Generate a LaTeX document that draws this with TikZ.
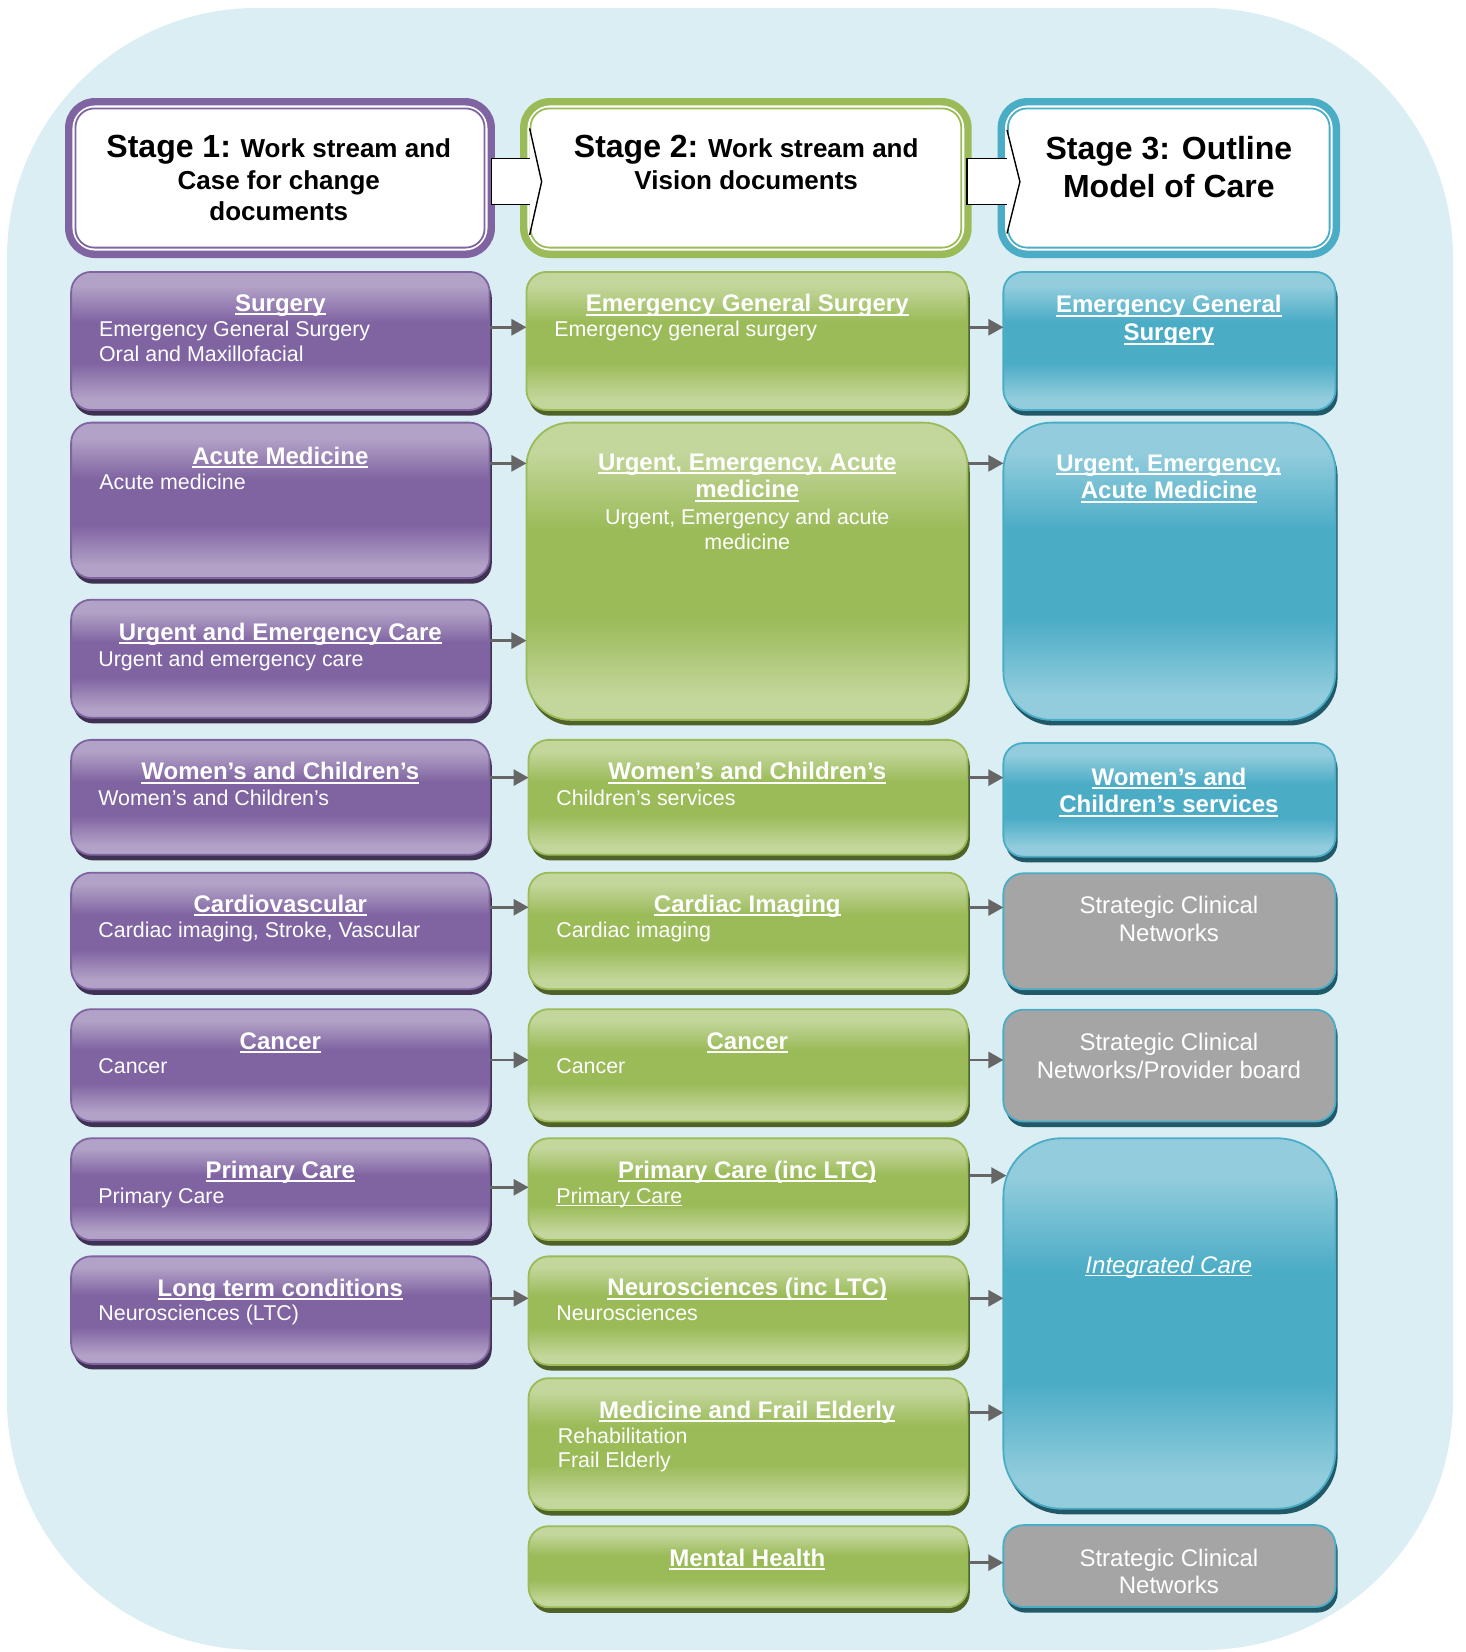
\documentclass[tikz,border=0pt]{standalone}
\usepackage{fontspec}
\setmainfont{Liberation Sans}
\usetikzlibrary{fit,shadows,arrows.meta}

\definecolor{bgc}{HTML}{DAEEF3}
\definecolor{pB}{HTML}{8064A2}
\definecolor{pL}{HTML}{B3A2C7}
\definecolor{pS}{HTML}{3F3151}
\definecolor{gB}{HTML}{9BBB59}
\definecolor{gL}{HTML}{C3D69B}
\definecolor{gS}{HTML}{4F6228}
\definecolor{bB}{HTML}{4BACC6}
\definecolor{bL}{HTML}{93CDDD}
\definecolor{bS}{HTML}{215968}
\definecolor{grF}{HTML}{A5A5A5}
\definecolor{arr}{HTML}{666666}

\pgfdeclareverticalshading{pglo}{100bp}{color(0bp)=(pL); color(25bp)=(pL); color(29bp)=(pL); color(42bp)=(pB); color(57bp)=(pB); color(70bp)=(pL); color(75bp)=(pL); color(100bp)=(pL)}
\pgfdeclareverticalshading{gglo}{100bp}{color(0bp)=(gL); color(25bp)=(gL); color(29bp)=(gL); color(42bp)=(gB); color(57bp)=(gB); color(70bp)=(gL); color(75bp)=(gL); color(100bp)=(gL)}
\pgfdeclareverticalshading{bglo}{100bp}{color(0bp)=(bL); color(25bp)=(bL); color(29bp)=(bL); color(42bp)=(bB); color(57bp)=(bB); color(70bp)=(bL); color(75bp)=(bL); color(100bp)=(bL)}

\newcommand{\ulx}[1]{\setbox0=\hbox{#1}\rlap{\rule[-1.9pt]{\wd0}{1pt}}\box0}
\newcommand{\ult}[1]{\setbox0=\hbox{#1}\rlap{\rule[-1.6pt]{\wd0}{0.6pt}}\box0}

\tikzset{
  boxbase/.style={inner sep=0pt, outer sep=0pt, line width=0.9pt},
  pbox/.style={boxbase, draw=pB, shade, shading=pglo, rounded corners=10pt,
    general shadow={fill=pS, shadow xshift=1.1pt, shadow yshift=-2.8pt}},
  gbox/.style={boxbase, draw=gB, shade, shading=gglo, rounded corners=10pt,
    general shadow={fill=gS, shadow xshift=1.1pt, shadow yshift=-2.8pt}},
  bbox/.style={boxbase, draw=bB, shade, shading=bglo, rounded corners=10pt,
    general shadow={fill=bS, shadow xshift=1.1pt, shadow yshift=-2.8pt}},
  sbox/.style={boxbase, draw=bB, fill=grF, rounded corners=10pt,
    general shadow={fill=bS, shadow xshift=1.1pt, shadow yshift=-2.8pt}},
  hdrbox/.style={inner sep=0pt, outer sep=0pt, rounded corners=15pt},
  hd/.style={font=\fontsize{12}{13.9}\selectfont\bfseries, text=white, inner sep=0pt, anchor=north, align=center},
  bd/.style={font=\fontsize{10.7}{12.1}\selectfont, text=white, inner sep=0pt, anchor=north west, align=left},
  bdc/.style={font=\fontsize{10.7}{12.1}\selectfont, text=white, inner sep=0pt, anchor=north, align=center},
  gt/.style={font=\fontsize{12}{13.7}\selectfont, text=white, inner sep=0pt, anchor=north, align=center},
  ttl/.style={font=\fontsize{13}{15.8}\selectfont\bfseries, text=black, inner sep=0pt, anchor=north, align=center},
  ttlb/.style={font=\fontsize{16}{19}\selectfont\bfseries, text=black, inner sep=0pt, anchor=north, align=center},
  conn/.style={draw=arr, line width=1.4pt, -{Triangle[length=7.5pt,width=8pt]}},
  blockarrow/.style={draw=black, line width=0.7pt}
}

\begin{document}
\begin{tikzpicture}[x=0.527pt,y=-0.527pt]
\useasboundingbox (0,0) rectangle (1390,1567.4);
\fill[bgc, rounded corners=125pt] (6.6,7.6) rectangle (1378.6,1565.5);

% ---------- stage headers ----------
\node[hdrbox, fill=pB, fit={(61.7,93)(469.6,244.8)}] (H1) {};
\node[hdrbox, fill=gB, fit={(493.4,93)(921.9,244.8)}] (H2) {};
\node[hdrbox, fill=bB, fit={(946.5,93)(1271.4,244.8)}] (H3) {};
\foreach \h/\c in {H1/pB,H2/gB,H3/bB}{
  \fill[white, rounded corners=11.5pt] ([shift={(3.7pt,-3.7pt)}]\h.north west) rectangle ([shift={(-3.7pt,3.7pt)}]\h.south east);
  \draw[\c, line width=0.9pt, rounded corners=9.5pt] ([shift={(5.2pt,-5.2pt)}]\h.north west) rectangle ([shift={(-5.2pt,5.2pt)}]\h.south east);
}
\node[ttl] (T1) at (264.5,128) {{\fontsize{16}{19}\selectfont Stage 1:} Work stream and\\Case for change\\documents};
\node[ttl] (T2) at (708,128) {{\fontsize{16}{19}\selectfont Stage 2:} Work stream and\\Vision documents};
\node[ttlb] (T3) at (1109,129) {Stage 3: Outline\\Model of Care};

% block arrows between stage headers
\fill[white] (466.5,150.2) -- (502.5,150.2) -- (502.5,121.8) -- (513.9,172.4) -- (502.5,223) -- (502.5,193.9) -- (466.5,193.9) -- cycle;
\draw[blockarrow] (502.5,150.2) -- (466.5,150.2) -- (466.5,193.9) -- (502.5,193.9);
\draw[blockarrow] (502.5,121.8) -- (513.9,172.4) -- (502.5,223);
\fill[white] (917.5,150.2) -- (955.4,150.2) -- (955.4,123.3) -- (967.7,172.4) -- (955.4,221.5) -- (955.4,193.9) -- (917.5,193.9) -- cycle;
\draw[blockarrow] (955.4,150.2) -- (917.5,150.2) -- (917.5,193.9) -- (955.4,193.9);
\draw[blockarrow] (955.4,123.3) -- (967.7,172.4) -- (955.4,221.5);

% ---------- stage 1 boxes ----------
\node[pbox, fit={(67.5,258)(464.5,389)}] (P1) {};
\node[pbox, fit={(67.5,401)(464.5,548.5)}] (P2) {};
\node[pbox, fit={(67.5,569)(464.5,681)}] (P3) {};
\node[pbox, fit={(67.5,702)(464.5,811)}] (P4) {};
\node[pbox, fit={(67.5,828)(464.5,938.5)}] (P5) {};
\node[pbox, fit={(67.5,957.5)(464.5,1064)}] (P6) {};
\node[pbox, fit={(67.5,1080)(464.5,1176.5)}] (P7) {};
\node[pbox, fit={(67.5,1192)(464.5,1294)}] (P8) {};

% ---------- stage 2 boxes ----------
\node[gbox, fit={(499.5,258)(918,389)}] (G1) {};
\node[gbox, rounded corners=22pt, fit={(499.5,401)(918,683)}] (G2) {};
\node[gbox, fit={(501.5,702)(918,811)}] (G3) {};
\node[gbox, fit={(501.5,828)(918,938.5)}] (G4) {};
\node[gbox, fit={(501.5,957.5)(918,1064)}] (G5) {};
\node[gbox, fit={(501.5,1080)(918,1176.5)}] (G6) {};
\node[gbox, fit={(501.5,1192)(918,1295)}] (G7) {};
\node[gbox, fit={(501.5,1307.6)(918,1432.6)}] (G8) {};
\node[gbox, fit={(501.5,1448)(918,1525)}] (G9) {};

% ---------- stage 3 boxes ----------
\node[bbox, fit={(952,258)(1267,389)}] (B1) {};
\node[bbox, rounded corners=24pt, fit={(952,401)(1267,683)}] (B2) {};
\node[bbox, fit={(952,705)(1267,812.8)}] (B3) {};
\node[sbox, fit={(952,828.6)(1267,938.6)}] (S1) {};
\node[sbox, fit={(952,958)(1267,1064)}] (S2) {};
\node[bbox, rounded corners=29pt, fit={(952,1080)(1267,1431.4)}] (B4) {};
\node[sbox, fit={(952,1447)(1267,1524.7)}] (S3) {};

% ---------- texts stage 1 ----------
\node[hd] (P1h) at (266,279) {\ulx{Surgery}};
\node[bd] (P1b) at (93.6,304.5) {Emergency General Surgery\\Oral and Maxillofacial};
\node[hd] (P2h) at (266,424) {\ulx{Acute Medicine}};
\node[bd] (P2b) at (94,449.7) {Acute medicine};
\node[hd] (P3h) at (266,591) {\ulx{Urgent and Emergency Care}};
\node[bd] (P3b) at (93,617.4) {Urgent and emergency care};
\node[hd] (P4h) at (266,723) {\ulx{Women’s and Children’s}};
\node[bd] (P4b) at (93,749) {Women’s and Children’s};
\node[hd] (P5h) at (266,849) {\ulx{Cardiovascular}};
\node[bd] (P5b) at (93,874.5) {Cardiac imaging, Stroke, Vascular};
\node[hd] (P6h) at (266,979) {\ulx{Cancer}};
\node[bd] (P6b) at (93,1004) {Cancer};
\node[hd] (P7h) at (266,1101) {\ulx{Primary Care}};
\node[bd] (P7b) at (93,1126.5) {Primary Care};
\node[hd] (P8h) at (266,1213) {\ulx{Long term conditions}};
\node[bd] (P8b) at (93,1238) {Neurosciences (LTC)};

% ---------- texts stage 2 ----------
\node[hd] (G1h) at (709,279) {\ulx{Emergency General Surgery}};
\node[bd] (G1b) at (525.5,304.5) {Emergency general surgery};
\node[hd] (G2h) at (709,430) {\ulx{Urgent, Emergency, Acute}\\\ulx{medicine}};
\node[bdc] (G2b) at (709,483) {Urgent, Emergency and acute\\medicine};
\node[hd] (G3h) at (709,723) {\ulx{Women’s and Children’s}};
\node[bd] (G3b) at (527.5,749) {Children’s services};
\node[hd] (G4h) at (709,849) {\ulx{Cardiac Imaging}};
\node[bd] (G4b) at (527.5,874.5) {Cardiac imaging};
\node[hd] (G5h) at (709,979) {\ulx{Cancer}};
\node[bd] (G5b) at (527.5,1004) {Cancer};
\node[hd] (G6h) at (709,1101) {\ulx{Primary Care (inc LTC)}};
\node[bd] (G6b) at (527.5,1126.5) {\ult{Primary Care}};
\node[hd] (G7h) at (709,1212.6) {\ulx{Neurosciences (inc LTC)}};
\node[bd] (G7b) at (527.5,1238) {Neurosciences};
\node[hd] (G8h) at (709,1329) {\ulx{Medicine and Frail Elderly}};
\node[bd] (G8b) at (529,1354.5) {Rehabilitation\\Frail Elderly};
\node[hd] (G9h) at (709,1469) {\ulx{Mental Health}};

% ---------- texts stage 3 ----------
\node[hd] (B1h) at (1109,280) {\ulx{Emergency General}\\\ulx{Surgery}};
\node[hd] (B2h) at (1109,431) {\ulx{Urgent, Emergency,}\\\ulx{Acute Medicine}};
\node[hd] (B3h) at (1109,728) {\ulx{Women’s and}\\\ulx{Children’s services}};
\node[gt] (S1t) at (1109,850) {Strategic Clinical\\Networks};
\node[gt] (S2t) at (1109,980) {Strategic Clinical\\Networks/Provider board};
\node[gt] (B4t) at (1109,1191) {\ult{\itshape Integrated Care}};
\node[gt] (S3t) at (1109,1469) {Strategic Clinical\\Networks};

% ---------- connectors ----------
\draw[conn] (P1.east |- 0,310.5) -- (G1.west |- 0,310.5);
\draw[conn] (P2.east |- 0,439.6) -- (G2.west |- 0,439.6);
\draw[conn] (P3.east |- 0,607.8) -- (G2.west |- 0,607.8);
\draw[conn] (P4.east |- 0,737.8) -- (G3.west |- 0,737.8);
\draw[conn] (P5.east |- 0,860.8) -- (G4.west |- 0,860.8);
\draw[conn] (P6.east |- 0,1005.7) -- (G5.west |- 0,1005.7);
\draw[conn] (P7.east |- 0,1126.5) -- (G6.west |- 0,1126.5);
\draw[conn] (P8.east |- 0,1231.8) -- (G7.west |- 0,1231.8);

\draw[conn] (G1.east |- 0,310.5) -- (B1.west |- 0,310.5);
\draw[conn] (G2.east |- 0,439.6) -- (B2.west |- 0,439.6);
\draw[conn] (G3.east |- 0,737.8) -- (B3.west |- 0,737.8);
\draw[conn] (G4.east |- 0,861) -- (S1.west |- 0,861);
\draw[conn] (G5.east |- 0,1005.7) -- (S2.west |- 0,1005.7);
\draw[conn] (G6.east |- 0,1115.4) -- ([xshift=1.5pt]B4.west |- 0,1115.4);
\draw[conn] (G7.east |- 0,1231.8) -- (B4.west |- 0,1231.8);
\draw[conn] (G8.east |- 0,1340.3) -- (B4.west |- 0,1340.3);
\draw[conn] (G9.east |- 0,1482.6) -- (S3.west |- 0,1482.6);
\end{tikzpicture}
\end{document}
